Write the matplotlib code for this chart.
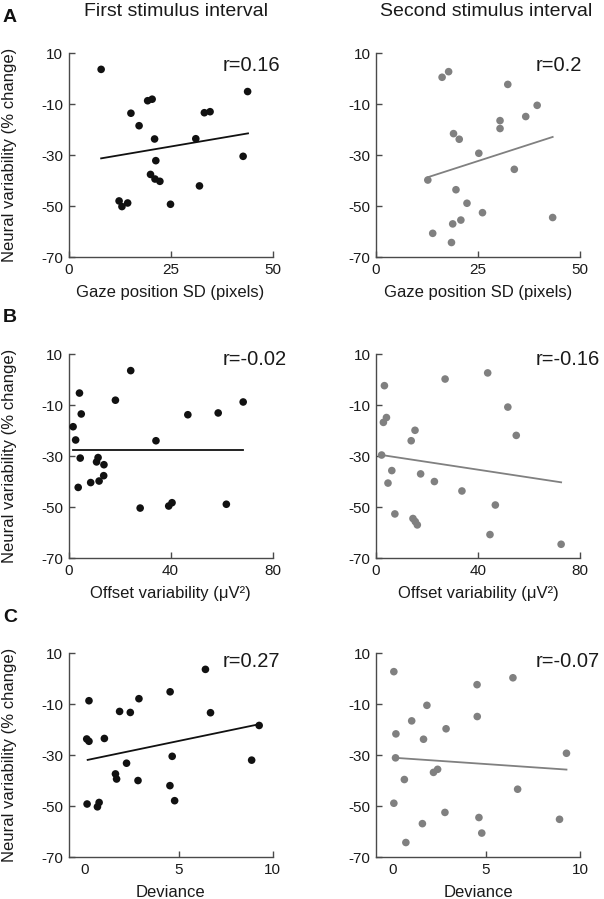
import matplotlib
matplotlib.use("Agg")
import matplotlib.pyplot as plt

plt.rcParams['font.family'] = ['Liberation Sans', 'DejaVu Sans']

# ---------------- data ----------------
# Row A: gaze position SD (pixels)
a1_x = [8.0, 19.4, 20.5, 15.3, 17.3, 33.3, 34.7, 43.9, 21.1, 31.2, 21.4, 42.8,
        20.1, 21.2, 22.4, 32.1, 12.4, 13.1, 14.5, 25.0]
a1_y = [3.7, -8.6, -8.0, -13.5, -18.4, -13.3, -12.9, -5.0, -23.6, -23.5, -32.1, -30.4,
        -37.5, -39.3, -40.2, -42.0, -47.9, -50.1, -48.7, -49.2]
a1_fit_x = [8.0, 44.0]
a1_fit_y = [-31.2, -21.4]

a2_x = [16.2, 17.8, 32.3, 39.5, 36.7, 30.4, 30.4, 19.0, 20.4, 25.2, 33.9, 12.7,
        19.6, 22.3, 26.1, 43.3, 20.8, 18.8, 13.9, 18.5]
a2_y = [0.6, 2.8, -2.2, -10.4, -14.8, -16.4, -19.5, -21.5, -23.7, -29.2, -35.5, -39.7,
        -43.5, -48.8, -52.5, -54.4, -55.4, -56.9, -60.6, -64.2]
a2_fit_x = [12.7, 43.3]
a2_fit_y = [-38.6, -22.8]

# Row B: offset variability (uV^2)
b1_x = [24.4, 4.3, 18.4, 68.5, 5.0, 46.8, 58.7, 1.8, 2.8, 34.3, 4.6, 11.6,
        11.0, 13.9, 13.8, 12.0, 8.7, 3.8, 28.1, 39.3, 40.6, 61.9]
b1_y = [3.6, -5.2, -8.0, -8.7, -13.4, -13.7, -13.0, -18.4, -23.6, -23.9, -30.7, -30.5,
        -32.2, -33.3, -37.6, -39.7, -40.3, -42.2, -50.3, -49.5, -48.2, -48.8]
b1_fit_x = [1.8, 68.5]
b1_fit_y = [-27.5, -27.5]

b2_x = [3.3, 27.1, 43.8, 51.7, 4.1, 2.9, 15.3, 13.8, 55.0, 2.2, 6.2, 17.5,
        22.9, 4.7, 33.7, 46.8, 7.4, 14.5, 15.4, 16.2, 44.7, 72.6]
b2_y = [-2.3, 0.3, 2.7, -10.7, -14.8, -16.7, -19.8, -23.9, -21.8, -29.5, -35.6, -36.9,
        -39.9, -40.5, -43.6, -49.1, -52.6, -54.4, -55.6, -56.9, -60.7, -64.5]
b2_fit_x = [2.2, 72.6]
b2_fit_y = [-29.5, -40.2]

# Row C: deviance
c1_x = [0.23, 6.43, 4.55, 2.89, 1.86, 2.43, 6.70, 9.29, 0.11, 0.23, 1.05, 4.66,
        8.89, 2.23, 1.64, 1.70, 2.84, 4.54, 4.79, 0.13, 0.77, 0.68]
c1_y = [-8.6, 3.7, -5.1, -7.8, -12.8, -13.2, -13.3, -18.3, -23.6, -24.5, -23.4, -30.4,
        -31.9, -33.1, -37.3, -39.3, -39.9, -41.9, -47.8, -49.1, -48.5, -50.2]
c1_fit_x = [0.16, 9.30]
c1_fit_y = [-31.8, -17.8]

c2_x = [0.09, 6.43, 4.52, 1.85, 4.53, 1.04, 2.87, 0.20, 1.67, 9.28, 0.18, 2.42,
        2.20, 0.65, 6.68, 0.09, 2.81, 4.62, 8.91, 1.61, 4.77, 0.73]
c2_y = [2.8, 0.4, -2.3, -10.4, -14.8, -16.5, -19.6, -21.6, -23.7, -29.2, -31.0, -35.5,
        -36.7, -39.5, -43.3, -48.8, -52.4, -54.4, -55.1, -56.8, -60.5, -64.2]
c2_fit_x = [0.18, 9.28]
c2_fit_y = [-31.0, -35.6]

r_labels = [["r=0.16", "r=0.2"], ["r=-0.02", "r=-0.16"], ["r=0.27", "r=-0.07"]]
col_titles = ["First stimulus interval", "Second stimulus interval"]
row_letters = ["A", "B", "C"]
x_labels = ["Gaze position SD (pixels)", "Offset variability (\u03bcV\u00b2)", "Deviance"]
y_label = "Neural variability (% change)"
y_ticks = [10, -10, -30, -50, -70]
x_ticks = [[0, 25, 50], [0, 40, 80], [0, 5, 10]]
x_lims = [(0, 50), (0, 80), (-0.86, 10)]

data = [[(a1_x, a1_y, a1_fit_x, a1_fit_y), (a2_x, a2_y, a2_fit_x, a2_fit_y)],
        [(b1_x, b1_y, b1_fit_x, b1_fit_y), (b2_x, b2_y, b2_fit_x, b2_fit_y)],
        [(c1_x, c1_y, c1_fit_x, c1_fit_y), (c2_x, c2_y, c2_fit_x, c2_fit_y)]]

# ---------------- figure ----------------
W, H = 604, 899
fig = plt.figure(figsize=(W / 100, H / 100), dpi=100)

col_left = [68.5, 376.0]
ax_w = 204.0
row_top = [53.3, 354.3, 653.3]
ax_h = 204.0
r_baseline = [70.7, 365.0, 667.3]
r_left = [222.3, 536.0]
letter_base = [22, 322, 622]

colors = ["#111111", "#808080"]
spine_col = "#4a4a4a"

for i in range(3):
    for j in range(2):
        x0 = col_left[j] / W
        y0 = 1 - (row_top[i] + ax_h) / H
        ax = fig.add_axes([x0, y0, ax_w / W, ax_h / H])
        xs, ys, fx, fy = data[i][j]
        ax.scatter(xs, ys, s=30, color=colors[j], edgecolors='none', zorder=3, clip_on=False)
        ax.plot(fx, fy, color=colors[j], lw=1.3, zorder=2)
        ax.set_xlim(*x_lims[i])
        ax.set_ylim(-70, 10)
        ax.set_yticks(y_ticks)
        ax.set_xticks(x_ticks[i])
        ax.set_yticklabels([str(t) for t in y_ticks], fontsize=11)
        ax.set_xticklabels([str(t) for t in x_ticks[i]], fontsize=11)
        for side in ["top", "right"]:
            ax.spines[side].set_visible(False)
        for side in ["left", "bottom"]:
            ax.spines[side].set_color(spine_col)
            ax.spines[side].set_linewidth(1.0)
        ax.tick_params(direction='in', length=4, width=1.0, color=spine_col,
                       pad=4, labelcolor='#1a1a1a')
        if i == 2:
            ax.xaxis.get_major_ticks()[0].tick1line.set_visible(False)
        ax.set_xlabel(x_labels[i], fontsize=12, labelpad=6, color='#1a1a1a')
        if j == 0:
            ax.set_ylabel(y_label, fontsize=12, color='#1a1a1a')
            ax.yaxis.set_label_coords(-0.25, 0.5)
        fig.text(r_left[j] / W, 1 - r_baseline[i] / H, r_labels[i][j],
                 fontsize=14.5, ha='left', va='baseline', color='#1a1a1a')

for i in range(3):
    fig.text(3 / W, 1 - letter_base[i] / H, row_letters[i], fontsize=14,
             fontweight='bold', ha='left', va='baseline', color='#111111')

title_cx = [176.0, 486.5]
for j in range(2):
    fig.text(title_cx[j] / W, 1 - 16 / H, col_titles[j], fontsize=14,
             ha='center', va='baseline', color='#1a1a1a')

fig.savefig("out.png", dpi=100)
